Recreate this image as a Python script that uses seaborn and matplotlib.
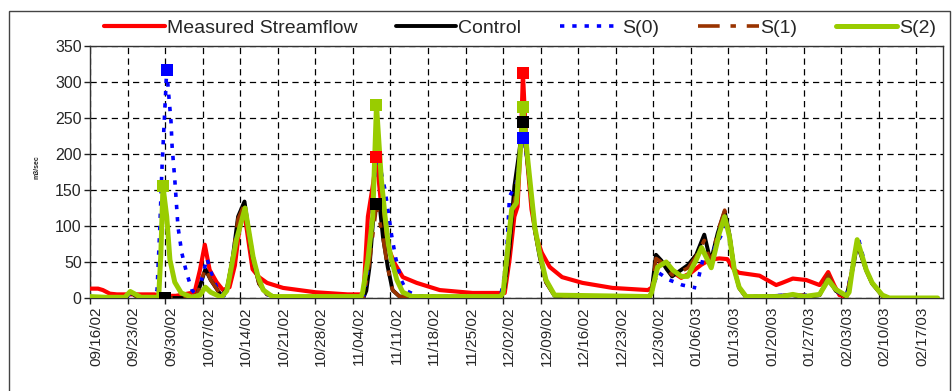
import matplotlib
matplotlib.use("Agg")
import matplotlib.pyplot as plt
import matplotlib.dates as mdates
from matplotlib.patches import Rectangle
from matplotlib.transforms import ScaledTranslation
import numpy as np
import pandas as pd
import seaborn as sns

# Days counted from 09/16/02, values in m3/sec
start = pd.Timestamp("2002-09-16")

measured_days = [0, 1.5, 2.4, 3.7, 5, 12, 13.5, 16, 17.5, 19.5, 20.5, 21.4, 22.3, 23.6, 24.8, 26, 27, 28,
                 28.6, 29.5, 30.3, 31.5, 33, 36, 42, 48, 50.5, 51, 51.8, 52.8, 53.4, 54.3, 55.5, 56.8,
                 58.3, 60.9, 65.2, 71.3, 76.5, 77.3, 78.2, 79.1, 79.7, 80.4, 80.7, 81.4, 82.3, 83.2,
                 84.2, 85.7, 88, 91.8, 97.4, 104, 104.8, 105.6, 106.5, 108, 110.2, 112, 113.9, 115.5,
                 117.3, 118.8, 120.1, 121, 124.8, 127.9, 129, 131, 133.5, 136, 137.6, 138.7, 139.7, 141]
measured_vals = [13, 13, 11, 6, 5, 5, 3, 3, 5, 8, 39, 74, 39, 22, 11, 15, 45, 105,
                 128, 81, 40, 29, 21, 14, 8, 5, 5, 8, 113, 160, 196, 127, 71, 48,
                 29, 21, 11, 7, 7, 7, 53, 113, 127, 238, 312, 200, 123, 85,
                 63, 43, 29, 21, 14, 11, 15, 39, 50, 39, 28, 35, 46, 53,
                 55, 54, 39, 35, 31, 18, 21, 27, 25, 18, 36, 18, 4, 2]

control_days = [0, 6.5, 7.5, 8.5, 9.5, 14, 19, 20, 21.5, 22.5, 24.5, 25.5, 26.5, 27.6, 28.8, 30.2, 31.5,
                33, 35, 51, 51.5, 52.1, 53, 53.4, 54, 54.6, 55.5, 56.4, 57.7, 76.5, 77.3, 78.2, 79.1,
                80, 80.7, 81.6, 82.9, 83.8, 85, 86.6, 104.3, 104.7, 105.5, 106.5, 107.5, 108.5, 110,
                111.5, 113, 114.5, 115.7, 117, 118.3, 119.2, 120.1, 121, 122.3, 131, 133, 136, 137.6,
                139, 141, 142.3, 143, 144.7, 145.8, 147.7, 149, 158]
control_vals = [0, 0, 8, 3, 0, 0, 0, 5, 40, 25, 3, 12, 50, 113, 134, 60, 20,
                5, 1, 1, 10, 43, 130, 130, 128, 85, 43, 11, 2, 1, 15, 70, 155,
                202, 245, 185, 95, 58, 22, 3, 1, 10, 60, 52, 40, 30, 38,
                46, 60, 88, 50, 90, 120, 88, 40, 14, 1, 4, 1, 4, 28,
                10, 2, 45, 75, 38, 20, 3, 0, 0]

# S(0) has a break in the record early in January (NaN)
s0_days = [0, 6.5, 7.5, 8.5, 9.5, 12, 12.5, 13, 13.4, 14.3, 14.7, 15.1, 15.3, 15.8, 16.4, 17.1, 18, 19,
           20, 20.8, 21.8, 22.8, 24, 25, 26, 27.3, 28.8, 30.4, 31.5, 33, 35, 51, 52, 53.4, 55, 56.2,
           57, 58, 59, 61, 76.5, 77.5, 78.2, 79.5, 80.7, 81.6, 82.9, 83.8, 85, 86.6, 104.3, 104.8,
           105.8, 108, 110.4, 113, 113.2, 113.5, 114.5, 115.7, 116.4, 117.9, 118.5, 119.2, 120.1,
           121, 122.3, 131, 136, 137.6, 139, 141, 142.3, 143.2, 144.7, 145.8, 147.7, 149, 158]
s0_vals = [0, 0, 6, 2, 0, 0, 11, 95, 178, 316, 280, 245, 211, 165, 99, 63, 35, 11,
           3, 25, 55, 30, 8, 3, 25, 85, 127, 58, 25, 5, 1, 1, 50, 205, 150, 88,
           55, 25, 10, 3, 1, 40, 141, 160, 222, 190, 98, 62, 25, 4, 1, 10,
           36, 25, 18, 14, np.nan, 30, 62, 48, 70, 90, 110, 85, 40,
           15, 2, 4, 4, 25, 10, 2, 52, 84, 40, 21, 4, 0, 0]

s1_days = [0, 6.5, 7.5, 8.5, 9.5, 19, 20, 21.5, 22.5, 24.5, 25.5, 26.5, 27.6, 28.8, 30.2, 31.5, 33, 35,
           51, 52, 53.4, 54.6, 55.5, 56.4, 57.7, 76.5, 77.5, 78.5, 79.5, 80.7, 81.6, 82.9, 83.8, 85,
           86.6, 104.3, 104.7, 105.5, 106.5, 108.5, 110, 111.5, 113, 114.5, 115.7, 117, 118.3, 119.2,
           120.1, 121, 122.3, 131, 136, 137.6, 139, 141, 142.3, 143, 144.7, 145.8, 147.7, 149, 158]
s1_vals = [0, 0, 8, 3, 0, 0, 5, 42, 25, 3, 12, 52, 110, 130, 58, 20, 5, 1,
           1, 45, 128, 84, 42, 11, 2, 1, 20, 110, 150, 240, 185, 95, 58, 22,
           3, 1, 10, 55, 50, 32, 36, 42, 58, 80, 48, 92, 122, 88,
           40, 14, 1, 4, 4, 32, 10, 2, 48, 78, 38, 20, 3, 0, 0]

s2_days = [0, 3, 6.5, 7.5, 8.5, 9.5, 12.8, 13.2, 13.6, 14.3, 14.9, 15.8, 17, 19, 20.5, 21.5, 22.5, 24.5,
           25.5, 26, 27.3, 28.9, 30.4, 31.3, 32.3, 34, 50.5, 50.8, 51.8, 52.7, 53.4, 54.3, 55, 55.6,
           56.2, 57.2, 58.3, 60, 76.5, 77, 77.9, 78.6, 79.5, 80.4, 80.7, 81.6, 82.9, 83.8, 85, 86.6,
           104.3, 104.7, 105.8, 107.4, 108.6, 110.2, 111.4, 113, 114, 115.8, 117.3, 118.3, 119.2,
           120.1, 121, 122.3, 129, 131, 133, 136, 137.6, 139, 141, 141.5, 142.3, 143, 144.7, 145.8,
           147.7, 149, 158]
s2_vals = [2, 1, 1, 9, 5, 1, 1, 60, 155, 113, 53, 22, 7, 1, 4, 15, 8, 1,
           10, 29, 81, 125, 57, 30, 11, 2, 2, 7, 53, 113, 268, 165, 113, 75,
           53, 25, 8, 2, 2, 7, 71, 123, 132, 224, 265, 192, 99, 63, 25, 4,
           2, 8, 43, 50, 39, 30, 30, 53, 70, 42, 90, 113, 85,
           39, 15, 2, 2, 5, 2, 5, 25, 12, 3, 8, 50, 81, 39, 21,
           4, 0, 0]

# days carrying a square marker for each series
measured_marks = [53.4, 80.7]
control_marks = [14, 53.4, 80.7]
s0_marks = [14.3, 80.7]
s2_marks = [13.6, 53.4, 80.7]

tick_days = list(range(0, 155, 7))


def to_dates(days):
    return start + pd.to_timedelta(np.asarray(days, dtype=float), unit="D")


sns.set_theme(style="white")
plt.rcParams["font.family"] = ["Liberation Sans", "DejaVu Sans"]

fig = plt.figure(figsize=(9.53, 3.91), dpi=100)
ax = fig.add_axes([90 / 953, 1 - 298 / 391, (943 - 90) / 953, (298 - 46) / 391])

series = [
    ("Measured Streamflow", measured_days, measured_vals, "#ff0000", 3.0, "-"),
    ("Control", control_days, control_vals, "#000000", 2.8, "-"),
    ("S(0)", s0_days, s0_vals, "#0000ff", 2.6, (0, (1.2, 2.2))),
    ("S(1)", s1_days, s1_vals, "#993300", 2.6, (0, (6, 3, 1.5, 3))),
    ("S(2)", s2_days, s2_vals, "#99cc00", 3.6, "-"),
]

handles = []
for label, days, vals, color, lw, ls in series:
    d = np.asarray(days, dtype=float)
    v = np.asarray(vals, dtype=float)
    # split on gaps so the line breaks there
    breaks = np.where(np.isnan(v))[0]
    pieces = np.split(np.arange(len(v)), breaks)
    for piece in pieces:
        piece = piece[~np.isnan(v[piece])]
        sns.lineplot(x=to_dates(d[piece]), y=v[piece], ax=ax, color=color, linewidth=lw,
                     linestyle=ls, legend=False, sort=False, zorder=3)
    handles.append(plt.Line2D([], [], color=color, linewidth=lw, linestyle=ls))

marks = [
    (s0_days, s0_vals, s0_marks, "#0000ff"),
    (control_days, control_vals, control_marks, "#000000"),
    (s2_days, s2_vals, s2_marks, "#99cc00"),
    (measured_days, measured_vals, measured_marks, "#ff0000"),
]
for days, vals, mdays, color in marks:
    lookup = dict(zip(days, vals))
    sns.scatterplot(x=to_dates(mdays), y=[lookup[m] for m in mdays], ax=ax, marker="s",
                    s=85, color=color, linewidth=0, zorder=5, legend=False)

ax.set_xlim(to_dates([0, 159]))
ax.set_ylim(0, 350)
ax.set_yticks(range(0, 351, 50))
ax.set_xticks(to_dates(tick_days))
ax.xaxis.set_major_formatter(mdates.DateFormatter("%m/%d/%y"))
ax.set_xlabel("")
ax.set_ylabel("")

ax.grid(True, color="#000000", linestyle=(0, (5, 3.5)), linewidth=0.9)
ax.set_axisbelow(True)
ax.tick_params(axis="both", direction="out", length=4, width=1, color="#222222",
               labelsize=11.5, pad=2, left=True, bottom=True)
ax.tick_params(axis="x", labelrotation=90, labelsize=11)
for lbl in ax.get_xticklabels():
    lbl.set_transform(lbl.get_transform() + ScaledTranslation(6 / 100, 0, fig.dpi_scale_trans))
for side in ["top", "right", "left", "bottom"]:
    ax.spines[side].set_color("#333333")
    ax.spines[side].set_linewidth(1)

fig.text(37 / 953, 1 - 167 / 391, "m3/sec", rotation=90, fontsize=5, fontweight="bold",
         ha="center", va="center")

ax.legend(handles, [s[0] for s in series], ncol=5, loc="center",
          bbox_to_anchor=(520 / 953, 1 - 28 / 391), bbox_transform=fig.transFigure,
          frameon=False, fontsize=14, handlelength=3.1, handletextpad=0.1,
          columnspacing=2.0, borderaxespad=0)

fig.patches.append(Rectangle((9.5 / 953, -0.1), (950 - 9.5) / 953, 1.1 - 11.5 / 391,
                             transform=fig.transFigure, fill=False, edgecolor="#444444",
                             linewidth=1))

fig.savefig("out.png", dpi=100)
